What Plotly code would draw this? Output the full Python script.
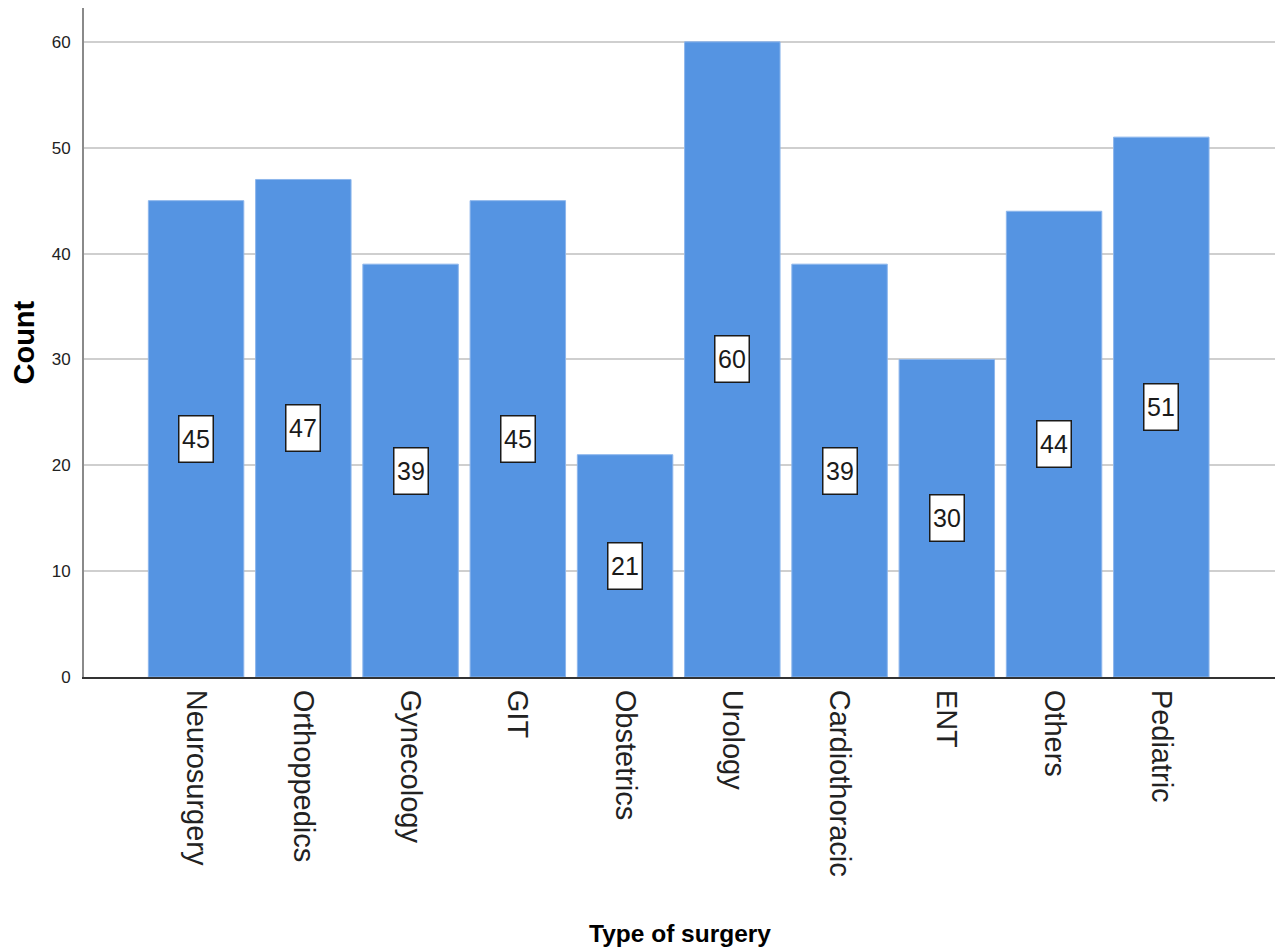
import plotly.graph_objects as go

# Surgery categories and their case counts
categories = ["Neurosurgery", "Orthoppedics", "Gynecology", "GIT", "Obstetrics",
              "Urology", "Cardiothoracic", "ENT", "Others", "Pediatric"]
counts = [45, 47, 39, 45, 21, 60, 39, 30, 44, 51]
y_ticks = [0, 10, 20, 30, 40, 50, 60]

REGULAR = "Liberation Sans, Arial, sans-serif"

fig = go.Figure()
fig.add_trace(go.Bar(
    x=categories,
    y=counts,
    marker=dict(color="#5594E2", line=dict(color="#8DB6EC", width=1)),
    width=0.89,
    hoverinfo="x+y",
))

# Value labels in boxes at half the bar height
for cat, val in zip(categories, counts):
    fig.add_annotation(
        x=cat, y=val / 2, xref="x", yref="y",
        text=str(val), showarrow=False,
        font=dict(family=REGULAR, size=25, color="#1a1a1a"),
        bgcolor="white", bordercolor="#1a1a1a", borderwidth=1.5,
        borderpad=1, width=31, height=43,
    )

fig.add_annotation(
    text="<b>Count</b>", textangle=-90, showarrow=False,
    xref="paper", yref="paper", x=0, y=0.5, xanchor="center", yanchor="middle",
    xshift=-61, font=dict(family=REGULAR, size=29, color="black"),
)
fig.add_annotation(
    text="<b>Type of surgery</b>", showarrow=False,
    xref="paper", yref="paper", x=0.5, y=0, xanchor="center", yanchor="middle",
    yshift=-256, font=dict(family=REGULAR, size=24.5, color="black"),
)

fig.update_layout(
    width=1277, height=951,
    margin=dict(l=84, r=2, t=8, b=274),
    paper_bgcolor="white", plot_bgcolor="white",
    showlegend=False,
    bargap=0.11,
    xaxis=dict(
        type="category",
        range=[-1.045, 10.06],
        tickangle=90,
        tickfont=dict(family=REGULAR, size=29, color="#222"),
        showline=True, linecolor="#333", linewidth=2,
        showgrid=False, ticks="", ticklabelstandoff=5,
    ),
    yaxis=dict(
        range=[0, 63.2],
        tickvals=y_ticks,
        tickfont=dict(family=REGULAR, size=17, color="#222"),
        showline=True, linecolor="#8a8a8a", linewidth=2,
        showgrid=True, gridcolor="#cfcfcf", gridwidth=2,
        zeroline=False, ticks="", ticklabelstandoff=8,
    ),
)

fig.write_html("out.html")
